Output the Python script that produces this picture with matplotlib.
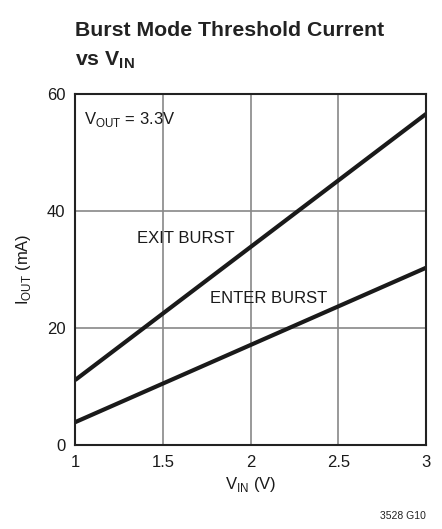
import matplotlib
matplotlib.use('Agg')
import matplotlib.pyplot as plt

# data
vin = [1.0, 3.0]
exit_burst = [11.1, 56.6]
enter_burst = [3.9, 30.3]
xticks = [1, 1.5, 2, 2.5, 3]
yticks = [0, 20, 40, 60]

FONT = ['Liberation Sans Narrow', 'Liberation Sans', 'DejaVu Sans']
plt.rcParams['font.family'] = FONT
plt.rcParams['mathtext.fontset'] = 'custom'
plt.rcParams['mathtext.rm'] = 'Liberation Sans'
plt.rcParams['mathtext.bf'] = 'Liberation Sans:bold'

fig = plt.figure(figsize=(4.42, 5.29), dpi=100)
ax = fig.add_axes([0.170, 0.1588, 0.794, 0.6635])

ax.plot(vin, exit_burst, color='#1a1a1a', lw=3, solid_capstyle='butt')
ax.plot(vin, enter_burst, color='#1a1a1a', lw=3, solid_capstyle='butt')

ax.set_xlim(1, 3)
ax.set_ylim(0, 60)
ax.set_xticks(xticks)
ax.set_xticklabels(['1', '1.5', '2', '2.5', '3'])
ax.set_yticks(yticks)
ax.tick_params(length=0, labelsize=12, pad=7, colors='#1a1a1a')
ax.grid(True, color='#888888', lw=1.2)
ax.set_axisbelow(True)
for s in ax.spines.values():
    s.set_linewidth(1.5)
    s.set_color('#222222')

ax.set_xlabel(r'V$_{\mathrm{IN}}$ (V)', fontsize=12, labelpad=4, color='#1a1a1a')
ax.set_ylabel(r'I$_{\mathrm{OUT}}$ (mA)', fontsize=12, labelpad=10, color='#1a1a1a')

ax.text(0.025, 0.955, r'V$_{\mathrm{OUT}}$ = 3.3V', transform=ax.transAxes,
        fontsize=12, va='top', ha='left', color='#1a1a1a')
ax.text(1.63, 35.3, 'EXIT BURST', fontsize=12, ha='center', va='center', color='#1a1a1a')
ax.text(2.1, 25.0, 'ENTER BURST', fontsize=12, ha='center', va='center', color='#1a1a1a')

fig.text(0.170, 0.932, 'Burst Mode Threshold Current', fontsize=15.3, fontweight='bold',
         ha='left', va='baseline', color='#222222')
fig.text(0.170, 0.877, r'vs V$_{\mathbf{IN}}$', fontsize=15.3, fontweight='bold',
         ha='left', va='baseline', color='#222222')
fig.text(0.963, 0.018, '3528 G10', fontsize=7.5, ha='right', va='baseline', color='#222222')

fig.savefig('out.png', dpi=100)
